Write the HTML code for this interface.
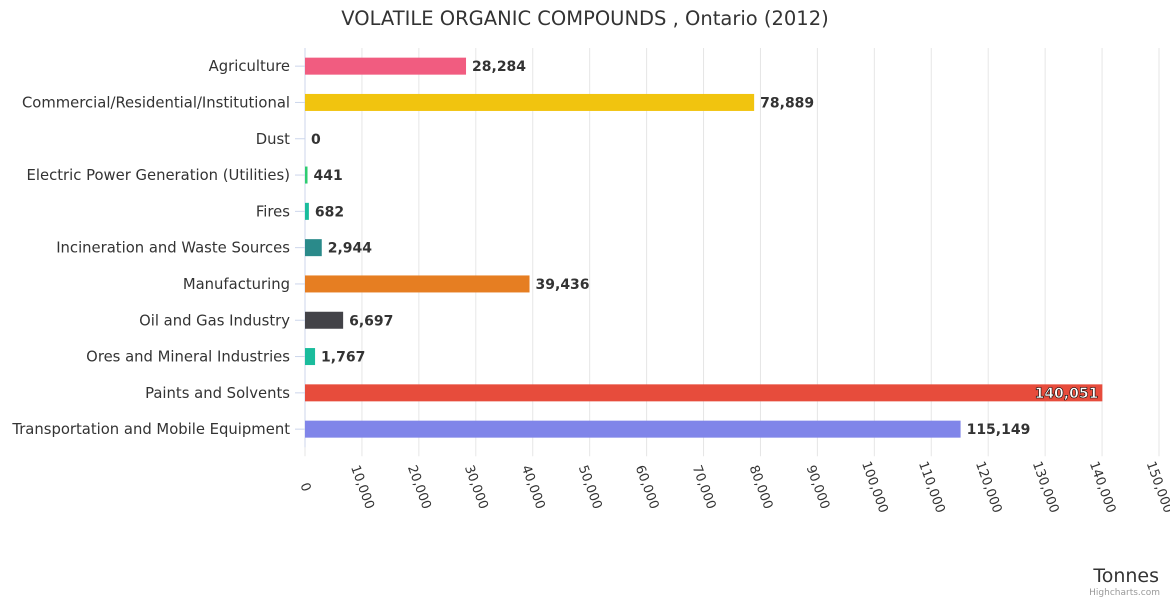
<!DOCTYPE html>
<html><head><meta charset="utf-8"><style>
body{margin:0;background:#fff;font-family:"Liberation Sans","DejaVu Sans",sans-serif;}
svg text{font-family:"DejaVu Sans","Liberation Sans",sans-serif;}
</style></head><body>
<svg id="chart" width="1170" height="600" xmlns="http://www.w3.org/2000/svg">
<text x="585" y="25" text-anchor="middle" font-size="19.5" fill="#333">VOLATILE ORGANIC COMPOUNDS , Ontario (2012)</text>
<g id="grid"></g><g id="bars"></g><g id="labels"></g><g id="ticks"></g>
<text x="1159" y="582" text-anchor="end" font-size="19" fill="#333">Tonnes</text>
<text x="1160" y="595" text-anchor="end" font-size="9" fill="#999">Highcharts.com</text>
</svg>
<script>
const categories=["Agriculture","Commercial/Residential/Institutional","Dust","Electric Power Generation (Utilities)","Fires","Incineration and Waste Sources","Manufacturing","Oil and Gas Industry","Ores and Mineral Industries","Paints and Solvents","Transportation and Mobile Equipment"];
const values=[28284,78889,0,441,682,2944,39436,6697,1767,140051,115149];
const colors=["#f15c80","#f1c40f","#2ecc71","#2ecc71","#1abc9c","#2a8a8a","#e67e22","#434348","#1abc9c","#e74c3c","#8085e9"];
const xTicks=[0,10000,20000,30000,40000,50000,60000,70000,80000,90000,100000,110000,120000,130000,140000,150000];
const NS="http://www.w3.org/2000/svg";
const x0=305,x1=1159,xMax=150000,plotTop=48,rowH=36.3;
const xs=v=>x0+v/xMax*(x1-x0);
const yc=i=>plotTop+rowH*(i+0.5);
const fmt=v=>v.toLocaleString("en-US");
function mk(tag,attrs,parent){const e=document.createElementNS(NS,tag);for(const k in attrs)e.setAttribute(k,attrs[k]);parent.appendChild(e);return e;}
const grid=document.getElementById("grid"),bars=document.getElementById("bars"),labels=document.getElementById("labels"),ticks=document.getElementById("ticks");
const plotBottom=plotTop+rowH*categories.length;
xTicks.forEach(t=>{
 const g=mk("line",{x1:xs(t),x2:xs(t),y1:plotTop,y2:plotBottom+9,stroke:"#e6e6e6"},grid);
 
 
 const tx=mk("text",{x:0,y:0,"font-size":13,fill:"#333","text-anchor":"middle","dominant-baseline":"central",transform:`translate(${xs(t)},${plotBottom+40}) rotate(70)`},ticks);
 tx.textContent=fmt(t);
 
 
});
const ax=mk("line",{x1:x0,x2:x0,y1:plotTop,y2:plotBottom,stroke:"#ccd6eb"},grid);


categories.forEach((c,i)=>{
 const y=yc(i);
 const tk=mk("line",{x1:x0-10,x2:x0,y1:y,y2:y,stroke:"#ccd6eb"},grid);
 
 
 const l=mk("text",{x:290,y:y+5,"text-anchor":"end","font-size":14.8,fill:"#333"},labels);
 l.textContent=c;
 
 
 const w=Math.max(xs(values[i])-x0,values[i]>0?2:0);
 const b=mk("rect",{x:x0,y:y-8.5,width:w,height:17,fill:colors[i]},bars);
 
 
 const inside=xs(values[i])>x1-60;
 const v=mk("text",{x:inside?xs(values[i])-4:x0+w+6,y:y+5,"text-anchor":inside?"end":"start","font-size":14,"font-weight":"bold",fill:inside?"#fff":"#333",stroke:inside?"#000":"none","stroke-width":inside?0.6:0},labels);
 v.textContent=fmt(values[i]);
 
 
});
</script>
</body></html>
